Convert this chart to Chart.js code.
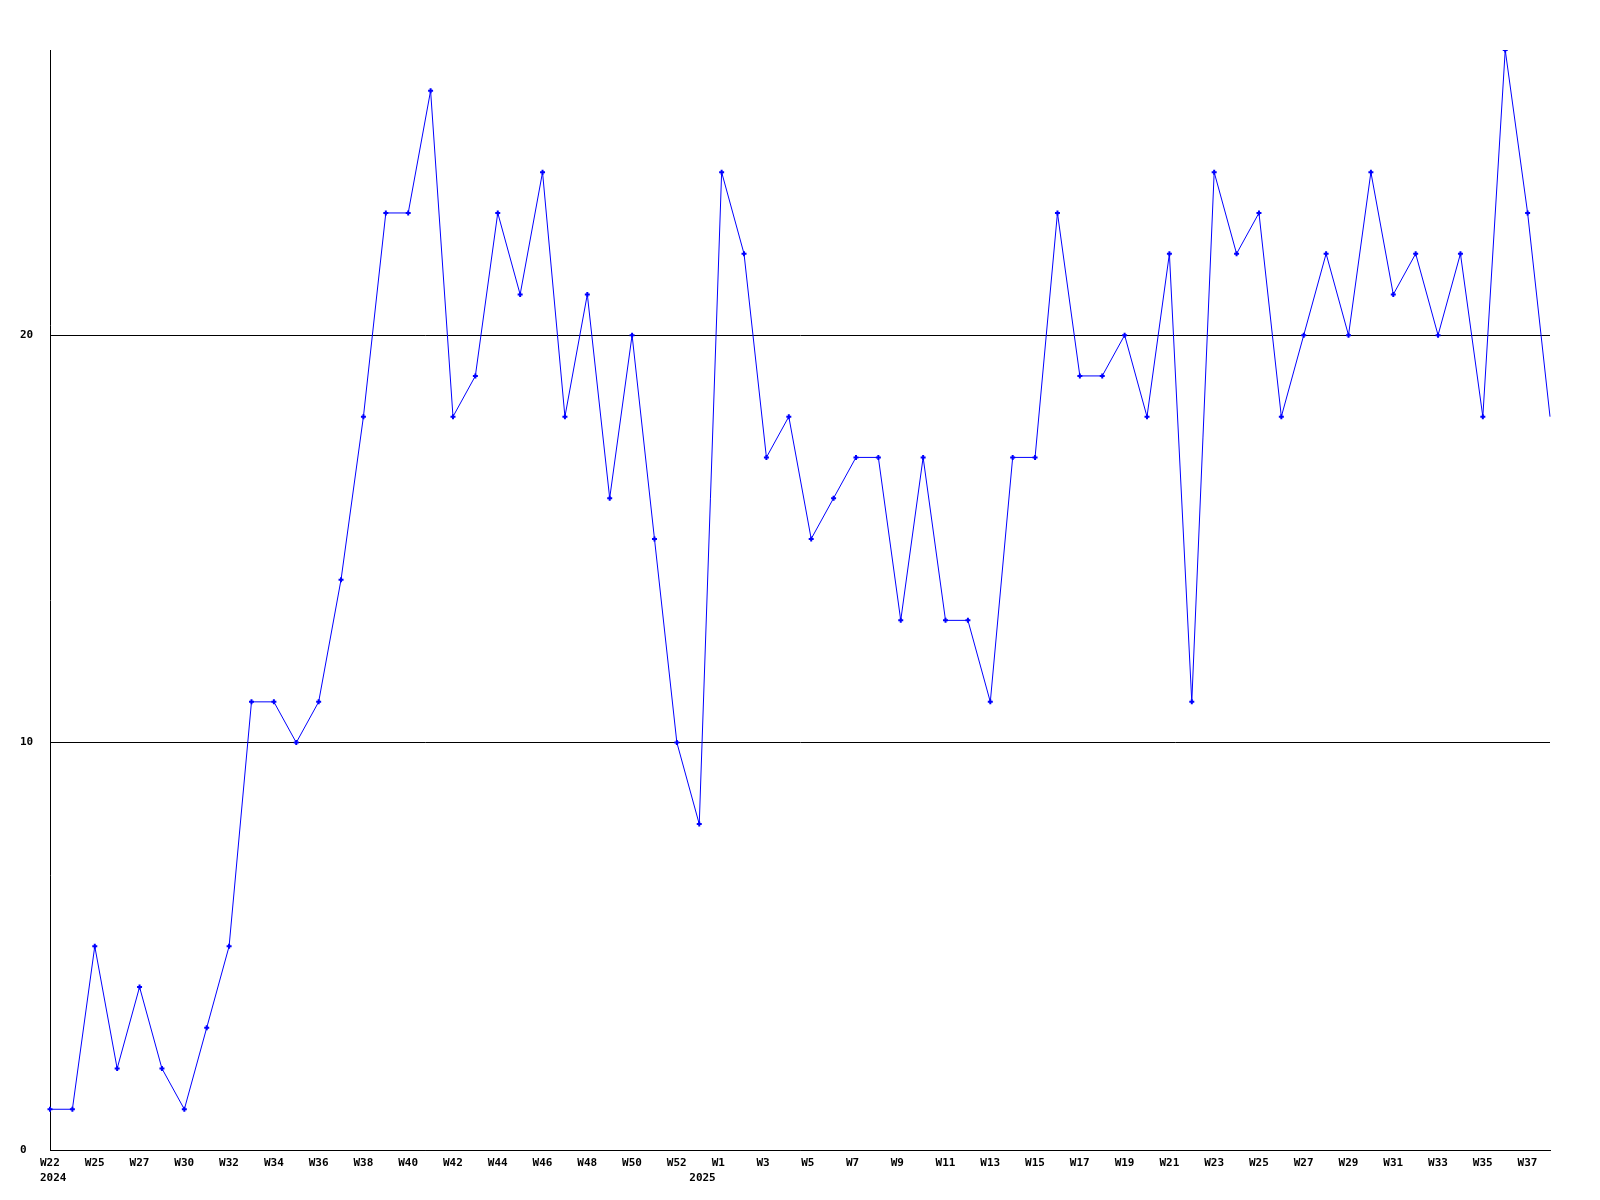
<!DOCTYPE html>
<html>
<head>
<meta charset="utf-8">
<script src="https://cdn.jsdelivr.net/npm/chart.js@4.4.0/dist/chart.umd.min.js"></script>
<style>
  html, body { margin: 0; padding: 0; background: #fff; }
  #wrap { width: 1600px; height: 1200px; }
</style>
</head>
<body>
<div id="wrap"><canvas id="chart" width="1600" height="1200"></canvas></div>
<script>
'use strict';

// ***** DATA *****
// one value per week, starting at W22 2024
let weekValues = [
  1, 1, 5, 2, 4, 2, 1, 3, 5, 11,
  11, 10, 11, 14, 18, 23, 23, 26, 18, 19,
  23, 21, 24, 18, 21, 16, 20, 15, 10, 8,
  24, 22, 17, 18, 15, 16, 17, 17, 13, 17,
  13, 13, 11, 17, 17, 23, 19, 19, 20, 18,
  22, 11, 24, 22, 23, 18, 20, 22, 20, 24,
  21, 22, 20, 22, 18, 27, 23, 18
];

// labels shown under every second point
let weekTicks = [
  'W22', 'W25', 'W27', 'W30', 'W32', 'W34', 'W36', 'W38', 'W40', 'W42',
  'W44', 'W46', 'W48', 'W50', 'W52', 'W1', 'W3', 'W5', 'W7', 'W9',
  'W11', 'W13', 'W15', 'W17', 'W19', 'W21', 'W23', 'W25', 'W27', 'W29',
  'W31', 'W33', 'W35', 'W37'
];

// year captions: point index -> text
let yearIndex = [0, 29];
let yearText = ['2024', '2025'];

let yTicks = [0, 10, 20];
let yMax = 27;

// ***** BUILD LABELS *****
let labels = [];
for (let i = 0; i < weekValues.length; i++) {
  let top = (i % 2 === 0 && weekTicks[i / 2]) ? weekTicks[i / 2] : '';
  let y = yearIndex.indexOf(i);
  labels.push(y >= 0 ? [top, yearText[y]] : top);
}

let font = { family: '"DejaVu Sans Mono", monospace', size: 11, weight: 'bold', lineHeight: 1.35 };

let chartObj = {
  type: 'line',
  data: {
    labels: labels,
    datasets: [{
      data: weekValues,
      borderColor: '#0000ff',
      backgroundColor: '#0000ff',
      borderWidth: 1,
      tension: 0,
      pointStyle: 'cross',
      // the last (current) week has no marker
      pointRadius: function (ctx) { return ctx.dataIndex === weekValues.length - 1 ? 0 : 2.5; },
      pointBorderWidth: 2,
      pointHoverRadius: 2.5
    }]
  },
  options: {
    responsive: false,
    animation: false,
    events: [],
    layout: { padding: { left: 20, top: 50, right: 50, bottom: 0 } },
    plugins: { legend: { display: false }, tooltip: { enabled: false } },
    scales: {
      x: {
        type: 'category',
        offset: false,
        grid: { display: false, drawTicks: false },
        border: { display: true, color: '#000', width: 1 },
        ticks: {
          autoSkip: false,
          maxRotation: 0,
          minRotation: 0,
          align: 'start',
          labelOffset: -10,
          padding: 6,
          color: '#000',
          font: font
        },
        afterFit: function (scale) { scale.height = 50; }
      },
      y: {
        min: 0,
        max: yMax,
        afterBuildTicks: function (scale) {
          scale.ticks = yTicks.map(function (v) { return { value: v }; });
        },
        grid: { color: '#000', lineWidth: 1, drawTicks: false },
        border: { display: true, color: '#000', width: 1 },
        ticks: {
          crossAlign: 'far',
          padding: 0,
          color: '#000',
          font: font
        },
        afterFit: function (scale) { scale.width = 30; }
      }
    }
  }
};

new Chart(document.getElementById('chart'), chartObj);
</script>
</body>
</html>
